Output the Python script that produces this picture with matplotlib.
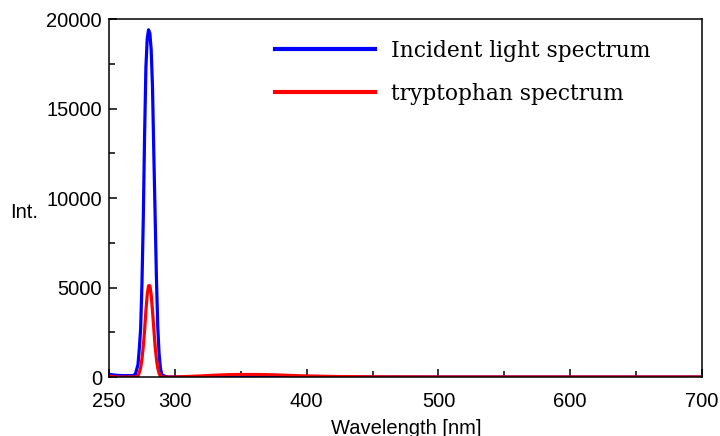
import numpy as np
import matplotlib
matplotlib.use("Agg")
import matplotlib.pyplot as plt
from matplotlib.ticker import MultipleLocator

# --- data ---
wl_incident = [250, 255, 260, 265, 268, 270, 272, 273, 274, 275, 276, 277, 278,
               279, 280, 281, 282, 283, 284, 285, 286, 287, 288, 289, 290, 292,
               295, 300, 350, 400, 500, 600, 700]
int_incident = [150, 100, 80, 80, 80, 150, 700, 1600, 2700, 5200, 8800, 13500, 17300,
                18900, 19400, 19200, 18300, 16200, 12500, 9000, 5500, 2800, 1300, 500, 150, 50,
                0, 0, 0, 0, 0, 0, 0]

wl_trp = [250, 255, 260, 268, 270, 272, 273, 274, 275, 276, 277, 278, 279, 280,
          281, 282, 283, 284, 285, 286, 287, 288, 289, 290, 295, 300, 310, 320,
          330, 340, 350, 360, 370, 380, 390, 400, 420, 450, 500, 600, 700]
int_trp = [50, 0, 0, 0, 0, 50, 250, 500, 1000, 1700, 2600, 3700, 4600, 5100,
           5100, 4600, 3700, 2700, 1700, 1000, 500, 200, 50, 0, 0, 0, 30, 60,
           100, 130, 140, 140, 130, 110, 80, 60, 30, 10, 0, 0, 0]

label_incident = "Incident light spectrum"
label_trp = "tryptophan spectrum"

fig = plt.figure(figsize=(7.2, 4.36), dpi=100)
ax = fig.add_axes([0.1514, 0.1353, 0.8236, 0.8211])

ax.plot(wl_incident, int_incident, color="#0000ff", lw=2.3, label=label_incident)
ax.plot(wl_trp, int_trp, color="#ff0000", lw=2.3, label=label_trp)

ax.set_xlim(250, 700)
ax.set_ylim(0, 20000)
ax.set_xticks([250, 300, 400, 500, 600, 700])
ax.xaxis.set_minor_locator(MultipleLocator(50))
ax.yaxis.set_major_locator(MultipleLocator(5000))
ax.yaxis.set_minor_locator(MultipleLocator(2500))

ax.tick_params(which="both", direction="in", top=False, right=False,
               width=1.1, labelsize=14.5, colors="black")
ax.tick_params(which="major", length=6)
ax.tick_params(which="minor", length=4)
ax.tick_params(axis="y", which="major", pad=5)
ax.tick_params(axis="x", which="major", pad=11)
for lab in ax.get_xticklabels() + ax.get_yticklabels():
    lab.set_family("Liberation Sans")
for sp in ax.spines.values():
    sp.set_linewidth(1.1)

fig.text(10 / 720, 1 - 212 / 436, "Int.", fontsize=14.5, family="Liberation Sans",
         ha="left", va="center")
fig.text(406 / 720, 1 - 428 / 436, "Wavelength [nm]", fontsize=14.5,
         family="Liberation Sans", ha="center", va="center")

leg = ax.legend(loc="upper left", bbox_to_anchor=(0.246, 0.997), frameon=False,
                prop={"family": "DejaVu Serif", "size": 15.7},
                handlelength=4.6, handletextpad=0.73, labelspacing=0.98)
for line in leg.get_lines():
    line.set_linewidth(3)

fig.savefig("out.png", dpi=100)
